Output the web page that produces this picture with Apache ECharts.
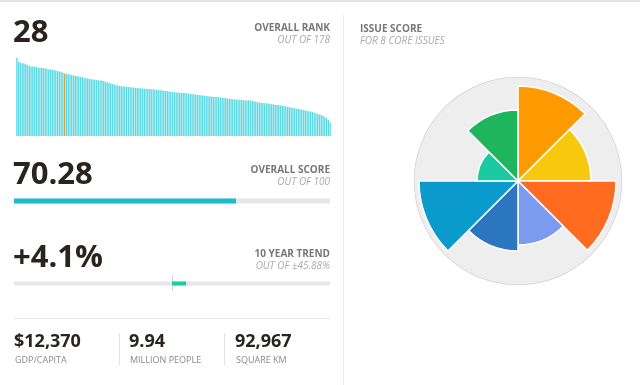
<!DOCTYPE html>
<html>
<head>
<meta charset="utf-8">
<script src="https://cdn.jsdelivr.net/npm/echarts@6/dist/echarts.min.js"></script>
<style>
html,body{margin:0;padding:0;background:#fff;}
#c{width:640px;height:385px;}
</style>
</head>
<body>
<div id="c"></div>
<script>
// ---------- data ----------
const overallRank = 28;
const rankTotal = 178;
const overallScore = 70.28;
const scoreMax = 100;
const trendValue = 4.1;
const trendRange = 45.88;
const gdpPerCapita = '$12,370';
const population = '9.94';
const area = '92,967';

// overall scores of all 178 countries, ranked
const allScores = [
  87.7, 83.3, 82.4, 81.8, 81.5, 80.5, 79.8, 78.3, 78.1, 78.0,
  77.8, 77.4, 76.9, 76.5, 76.4, 76.4, 75.8, 75.7, 74.7, 74.7,
  74.5, 74.4, 73.3, 73.1, 72.4, 72.2, 71.1, 70.3, 69.6, 69.4,
  69.0, 68.5, 67.9, 67.7, 67.3, 66.9, 66.5, 66.1, 65.5, 65.0,
  64.7, 64.3, 63.9, 63.5, 63.2, 62.9, 62.7, 62.5, 62.3, 61.8,
  61.0, 60.4, 59.7, 59.0, 58.4, 57.8, 57.2, 56.6, 56.1, 55.9,
  55.7, 55.5, 55.3, 55.0, 54.8, 54.6, 54.4, 54.2, 53.9, 53.7,
  53.6, 53.4, 53.2, 53.0, 52.9, 52.8, 52.6, 52.4, 52.2, 52.0,
  51.7, 51.5, 51.2, 50.9, 50.6, 50.3, 50.0, 49.7, 49.4, 49.2,
  49.0, 48.8, 48.6, 48.4, 48.4, 48.2, 48.0, 47.7, 47.3, 47.0,
  46.8, 46.5, 46.2, 46.0, 45.8, 45.5, 45.2, 44.9, 44.6, 44.4,
  44.2, 44.0, 43.9, 43.8, 43.6, 43.3, 43.0, 42.7, 42.3, 42.0,
  41.8, 41.6, 41.4, 41.2, 41.0, 40.8, 40.6, 40.4, 40.2, 40.1,
  40.0, 39.9, 39.8, 39.5, 39.1, 38.6, 38.1, 37.7, 37.3, 37.0,
  36.8, 36.6, 36.4, 36.1, 35.8, 35.5, 35.2, 34.9, 34.6, 34.3,
  34.0, 33.6, 33.2, 32.8, 32.4, 32.0, 31.6, 31.2, 30.8, 30.4,
  30.0, 29.6, 29.2, 28.8, 28.4, 27.9, 27.5, 27.0, 26.4, 25.7,
  25.0, 24.3, 23.5, 22.4, 21.5, 20.0, 18.4, 15.5
];

const issues = ['Health Impacts', 'Air Quality', 'Water & Sanitation', 'Water Resources',
                'Agriculture', 'Forests', 'Fisheries', 'Biodiversity & Habitat'];
const issueScores = [91.8, 70.5, 94.7, 61.8, 67.6, 95.7, 39.6, 68.6];

// ---------- styles ----------
const issueColors = ['#FF9A00', '#F6C90E', '#FF6B1F', '#7D9BEE', '#2C76C0', '#0A9ACC', '#1BC9A2', '#1EB55C'];
const FONT = '"Open Sans", "DejaVu Sans", sans-serif';
const dark = '#2a2420';

const rankCats = allScores.map((v, i) => String(i + 1));
const rankData = allScores.map((v, i) => (i + 1 === overallRank)
  ? { value: v, itemStyle: { color: '#d6a24a' } } : v);

function txt(text, x, y, font, fill, align) {
  return { type: 'text', silent: true, style: { text, x, y, font, fill, textAlign: align || 'left', textVerticalAlign: 'middle' } };
}

const chart = echarts.init(document.getElementById('c'), null, { renderer: 'canvas' });
chart.setOption({
  backgroundColor: '#ffffff',
  animation: false,
  grid: [
    { left: 16, right: 309, top: 47, bottom: 249 },              // rank strip
    { left: 14, right: 310, top: 198.5, height: 5 },              // score
    { left: 14, right: 310, top: 276.5, height: 14 }              // trend
  ],
  xAxis: [
    { gridIndex: 0, type: 'category', data: rankCats, show: false },
    { gridIndex: 1, type: 'value', min: 0, max: scoreMax, show: false },
    { gridIndex: 2, type: 'value', min: -trendRange, max: trendRange, show: false }
  ],
  yAxis: [
    { gridIndex: 0, type: 'value', min: 0, max: 100, show: false },
    { gridIndex: 1, type: 'category', data: ['score'], show: false },
    { gridIndex: 2, type: 'category', data: ['trend'], axisLine: { show: true, onZero: true, lineStyle: { color: '#cfcfcf', width: 1 } },
      axisTick: { show: false }, axisLabel: { show: false }, splitLine: { show: false } }
  ],
  polar: { center: [518, 181], radius: [0, 103.5] },
  angleAxis: { type: 'category', data: issues, startAngle: 90, clockwise: true,
    axisLine: { show: true, lineStyle: { color: '#d4d4d4', width: 1.5 } },
    axisTick: { show: false }, axisLabel: { show: false }, splitLine: { show: false }, splitArea: { show: false } },
  radiusAxis: { type: 'value', min: 0, max: 100, show: false, axisLine: { show: false }, splitLine: { show: false } },
  series: [
    { type: 'bar', xAxisIndex: 0, yAxisIndex: 0, data: rankData, barCategoryGap: '22%',
      itemStyle: { color: '#5fd9e3' } },
    { type: 'bar', xAxisIndex: 1, yAxisIndex: 1, data: [overallScore], barWidth: 5,
      itemStyle: { color: '#1bbbd0' }, showBackground: true, backgroundStyle: { color: '#e6e6e6' } },
    { type: 'bar', xAxisIndex: 2, yAxisIndex: 2, data: [trendValue], barWidth: 4,
      itemStyle: { color: '#1ec9a4' }, showBackground: true, backgroundStyle: { color: '#e6e6e6' } },
    { type: 'bar', coordinateSystem: 'polar', data: issueScores, colorBy: 'data', color: issueColors,
      barCategoryGap: '0%', itemStyle: { borderColor: '#ffffff', borderWidth: 1.5 },
      showBackground: true, backgroundStyle: { color: '#eeeeee' } }
  ],
  graphic: [
    { type: 'rect', silent: true, shape: { x: 0, y: 0, width: 640, height: 2 }, style: { fill: '#e3e3e3' } },
    { type: 'line', silent: true, shape: { x1: 343.5, y1: 15, x2: 343.5, y2: 385 }, style: { stroke: '#ececec', lineWidth: 1 } },
    { type: 'line', silent: true, shape: { x1: 14, y1: 318.5, x2: 330, y2: 318.5 }, style: { stroke: '#e9e9e9', lineWidth: 1 } },
    { type: 'line', silent: true, shape: { x1: 119.5, y1: 333, x2: 119.5, y2: 365 }, style: { stroke: '#e2e2e2', lineWidth: 1 } },
    { type: 'line', silent: true, shape: { x1: 224.5, y1: 333, x2: 224.5, y2: 365 }, style: { stroke: '#e2e2e2', lineWidth: 1 } },

    txt(String(overallRank), 13, 33, 'bold 31px ' + FONT, dark),
    txt('OVERALL RANK', 330, 28, 'bold 10px ' + FONT, '#777777', 'right'),
    txt('OUT OF ' + rankTotal, 330, 40, 'italic 10px ' + FONT, '#aaaaaa', 'right'),

    txt(overallScore.toFixed(2), 13, 175, 'bold 31px ' + FONT, dark),
    txt('OVERALL SCORE', 330, 170.5, 'bold 10px ' + FONT, '#777777', 'right'),
    txt('OUT OF ' + scoreMax, 330, 182.5, 'italic 10px ' + FONT, '#aaaaaa', 'right'),

    txt('+' + trendValue + '%', 13, 258, 'bold 31px ' + FONT, dark),
    txt('10 YEAR TREND', 330, 254, 'bold 10px ' + FONT, '#777777', 'right'),
    txt('OUT OF \u00b1' + trendRange + '%', 330, 266, 'italic 10px ' + FONT, '#aaaaaa', 'right'),

    txt(gdpPerCapita, 14, 342, 'bold 18px ' + FONT, dark),
    txt('GDP/CAPITA', 15, 360, '9px ' + FONT, '#8a8a8a'),
    txt(population, 129, 342, 'bold 18px ' + FONT, dark),
    txt('MILLION PEOPLE', 130, 360, '9px ' + FONT, '#8a8a8a'),
    txt(area, 235, 342, 'bold 18px ' + FONT, dark),
    txt('SQUARE KM', 236, 360, '9px ' + FONT, '#8a8a8a'),

    txt('ISSUE SCORE', 360, 29, 'bold 10px ' + FONT, '#777777'),
    txt('FOR 8 CORE ISSUES', 360, 41, 'italic 10px ' + FONT, '#aaaaaa')
  ]
});
</script>
</body>
</html>
